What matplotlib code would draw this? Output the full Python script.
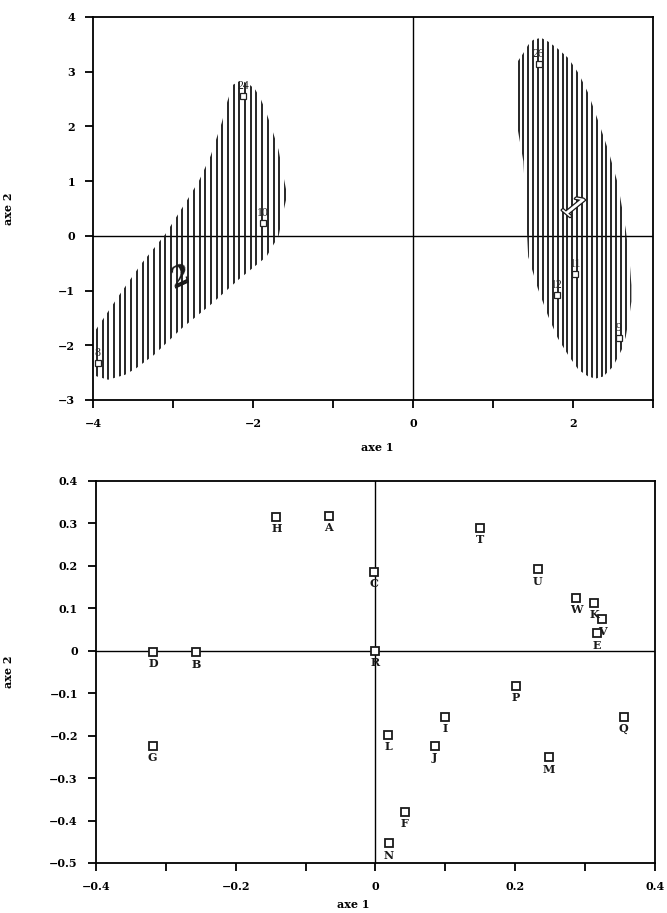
import numpy as np
import matplotlib.pyplot as plt
from matplotlib.patches import Polygon
import matplotlib.patheffects as pe

plt.rcParams['font.family'] = ['DejaVu Serif']

# top panel: individuals (factor map)
ind_labels = ['24', '10', '8', '26', '11', '12', '9']
ind_x = [-2.12, -1.87, -3.94, 1.57, 2.03, 1.80, 2.57]
ind_y = [2.56, 0.24, -2.32, 3.14, -0.70, -1.08, -1.87]

# outline of group 2 region (left)
grp2_x = [-3.98, -3.67, -3.39, -3.10, -2.82, -2.67, -2.53, -2.39, -2.32, -2.25,
          -2.15, -2.04, -1.97, -1.90, -1.83, -1.76, -1.68, -1.61, -1.58,
          -1.58, -1.61, -1.68, -1.76, -1.83, -2.18, -2.53, -2.89, -3.24,
          -3.46, -3.60, -3.81, -3.95, -3.98]
grp2_y = [-1.75, -1.08, -0.50, 0.02, 0.66, 1.02, 1.46, 2.07, 2.46, 2.76,
          2.84, 2.76, 2.67, 2.49, 2.24, 1.94, 1.57, 1.02, 0.80,
          0.70, 0.51, -0.01, -0.20, -0.38, -0.80, -1.26, -1.69, -2.18,
          -2.42, -2.54, -2.63, -2.57, -2.55]

# outline of group 1 region (right)
grp1_x = [1.29, 1.31, 1.38, 1.44, 1.50, 1.60, 1.69, 1.81, 1.94, 2.07, 2.19,
          2.31, 2.44, 2.56, 2.61, 2.66, 2.71, 2.73,
          2.73, 2.71, 2.66, 2.61, 2.50, 2.38, 2.28, 2.19, 2.07, 1.94, 1.81,
          1.69, 1.56, 1.44, 1.38, 1.31, 1.29]
grp1_y = [3.15, 3.19, 3.34, 3.49, 3.58, 3.62, 3.55, 3.42, 3.25, 2.97, 2.61,
          2.12, 1.57, 0.96, 0.54, 0.11, -0.50, -0.90,
          -1.20, -1.41, -1.84, -2.08, -2.39, -2.57, -2.61, -2.57, -2.45, -2.18, -1.87,
          -1.47, -0.96, -0.38, 1.36, 1.94, 2.00]

grp_names = ['1', '2']
grp_x = [2.0, -2.90]
grp_y = [0.50, -0.77]

# bottom panel: variables
var_labels = ['H', 'A', 'D', 'B', 'G', 'C', 'R', 'T', 'U', 'W', 'K', 'V', 'E',
              'P', 'I', 'Q', 'L', 'J', 'M', 'F', 'N']
var_x = [-0.142, -0.067, -0.318, -0.257, -0.319, -0.002, 0.0, 0.149, 0.232,
         0.287, 0.313, 0.324, 0.317, 0.201, 0.099, 0.355, 0.018, 0.085,
         0.248, 0.042, 0.019]
var_y = [0.315, 0.318, -0.003, -0.004, -0.224, 0.186, 0.0, 0.290, 0.192,
         0.124, 0.113, 0.074, 0.041, -0.083, -0.155, -0.155, -0.198, -0.224,
         -0.251, -0.379, -0.454]

fig = plt.figure(figsize=(6.67, 9.13), dpi=100)
ax1 = fig.add_axes([0.1394, 0.5619, 0.8396, 0.4195])
ax2 = fig.add_axes([0.1439, 0.0548, 0.8381, 0.4184])


def style_axes(ax):
    for s in ax.spines.values():
        s.set_linewidth(1.3)
    ax.tick_params(which='both', direction='out', length=6, width=1.3,
                   top=False, right=False, pad=7)
    for lab in ax.get_xticklabels() + ax.get_yticklabels():
        lab.set_fontweight('bold')
        lab.set_fontsize(8)
    ax.axhline(0, color='black', lw=1.0, zorder=1)
    ax.axvline(0, color='black', lw=1.0, zorder=1)


# ---- top panel
ax1.set_xlim(-4, 3)
ax1.set_ylim(-3, 4)
ax1.set_xticks([-4, -2, 0, 2])
ax1.set_xticks([-3, -1, 1, 3], minor=True)
ax1.set_xticklabels(['\u22124', '\u22122', '0', '2'])
ax1.set_yticks(range(-3, 5))
ax1.set_yticklabels(['\u22123', '\u22122', '\u22121', '0', '1', '2', '3', '4'])
style_axes(ax1)

for gx, gy, step in [(grp2_x, grp2_y, 0.0712), (grp1_x, grp1_y, 0.061)]:
    poly = Polygon(np.column_stack([gx, gy]), closed=True, facecolor='none',
                   edgecolor='none', transform=ax1.transData)
    xs = np.arange(min(gx) + 0.03, max(gx) - 0.005, step)
    lc = ax1.vlines(xs, min(gy) - 0.2, max(gy) + 0.2, colors='#151515',
                    linewidth=1.3, zorder=2)
    lc.set_clip_path(poly)

ax1.plot(ind_x, ind_y, 's', ms=4.5, mfc='white', mec='#222222', mew=0.9,
         zorder=4)
for lab, x, y in zip(ind_labels, ind_x, ind_y):
    ax1.annotate(lab, (x, y), xytext=(0, 3), textcoords='offset points',
                 ha='center', va='bottom', fontsize=8.5, color='#222222',
                 family='Liberation Serif', zorder=5)

ax1.text(grp_x[0], grp_y[0], grp_names[0], fontsize=22, fontstyle='italic',
         rotation=-40, ha='center', va='center', color='white', zorder=5,
         path_effects=[pe.withStroke(linewidth=1.8, foreground='#1a1a1a')])
ax1.text(grp_x[1], grp_y[1], grp_names[1], fontsize=20, fontstyle='italic',
         fontweight='bold', rotation=25, ha='center', va='center',
         color='#1a1a1a', zorder=5)

ax1.set_ylabel('axe 2', fontsize=8, fontweight='bold')
ax1.yaxis.set_label_coords(-0.141, 0.5)
ax1.set_xlabel('axe 1', fontsize=8, fontweight='bold')
ax1.xaxis.set_label_coords(0.508, -0.11)

# ---- bottom panel
ax2.set_xlim(-0.4, 0.4)
ax2.set_ylim(-0.5, 0.4)
ax2.set_xticks([-0.4, -0.2, 0, 0.2, 0.4])
ax2.set_xticks([-0.3, -0.1, 0.1, 0.3], minor=True)
ax2.set_xticklabels(['\u22120.4', '\u22120.2', '0', '0.2', '0.4'])
yt = [-0.5, -0.4, -0.3, -0.2, -0.1, 0, 0.1, 0.2, 0.3, 0.4]
ax2.set_yticks(yt)
ax2.set_yticklabels(['\u22120.5', '\u22120.4', '\u22120.3', '\u22120.2',
                     '\u22120.1', '0', '0.1', '0.2', '0.3', '0.4'])
style_axes(ax2)

ax2.plot(var_x, var_y, 's', ms=6, mfc='white', mec='#1a1a1a', mew=1.3,
         zorder=4)
for lab, x, y in zip(var_labels, var_x, var_y):
    ax2.annotate(lab, (x, y), xytext=(0, -4.5), textcoords='offset points',
                 ha='center', va='top', fontsize=8, fontweight='bold',
                 color='#1a1a1a', zorder=5)

ax2.set_ylabel('axe 2', fontsize=8, fontweight='bold')
ax2.yaxis.set_label_coords(-0.147, 0.5)
ax2.set_xlabel('axe 1', fontsize=8, fontweight='bold')
ax2.xaxis.set_label_coords(0.46, -0.094)

fig.savefig('out.png', dpi=100, facecolor='white')
